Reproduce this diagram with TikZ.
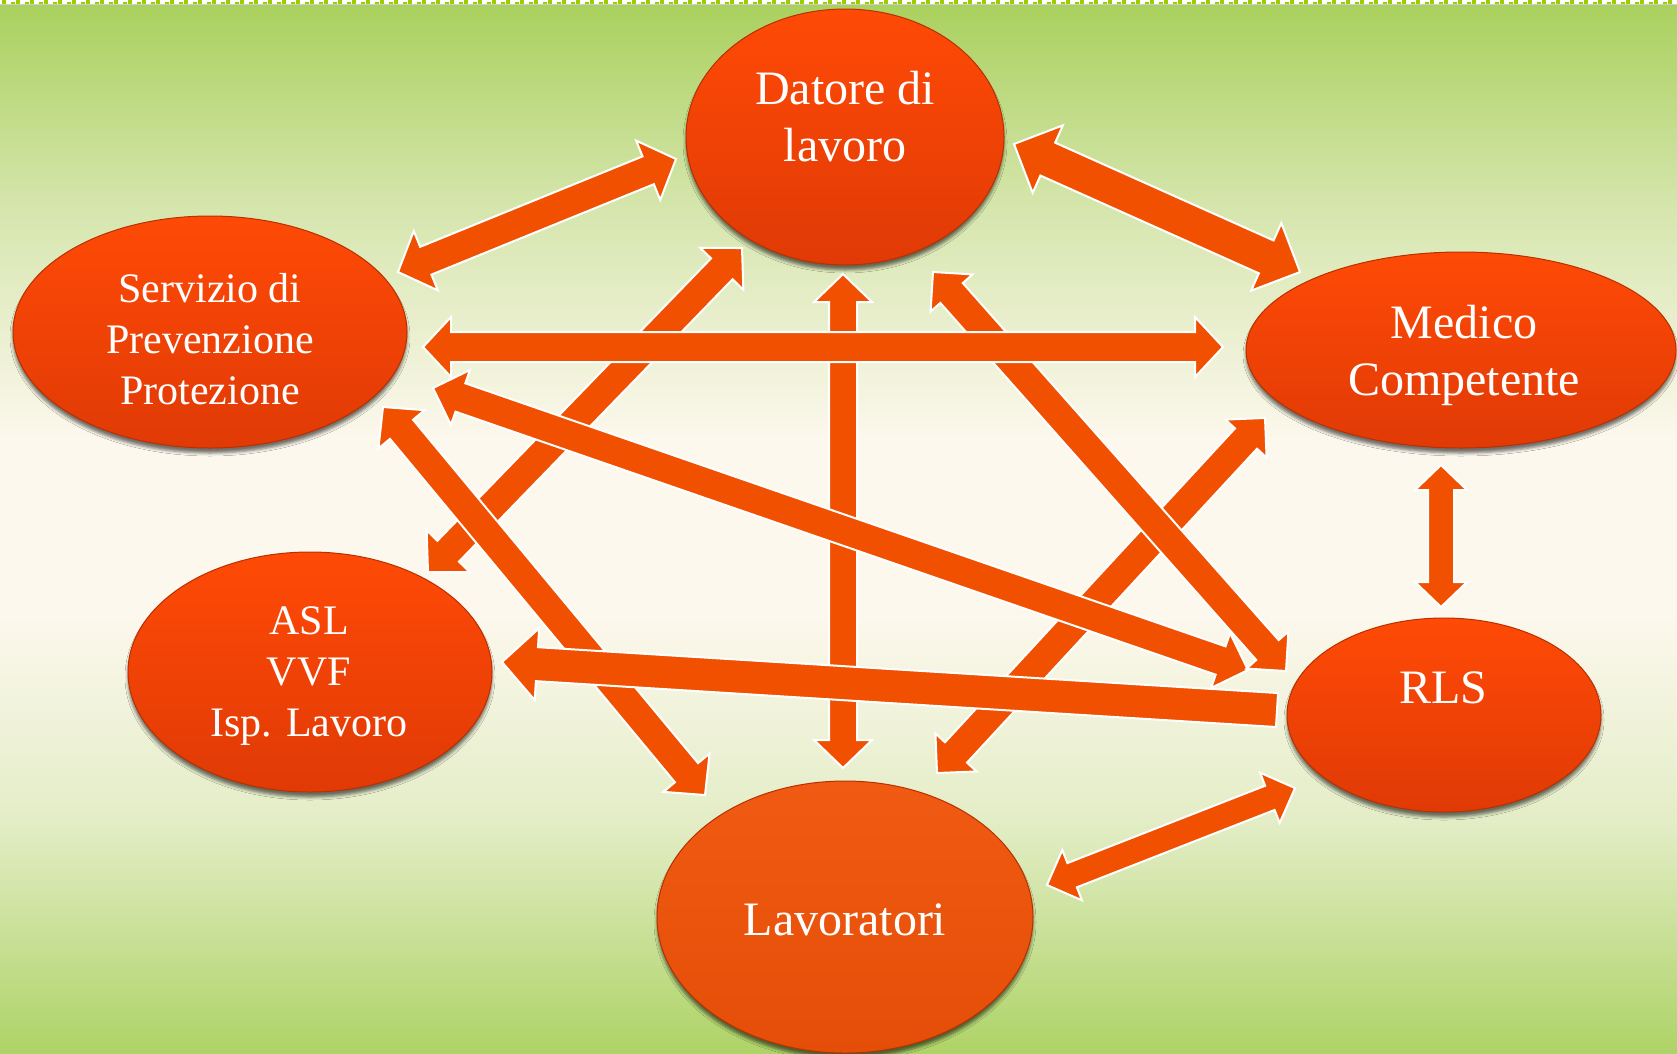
\documentclass[tikz,border=0pt]{standalone}
\usepackage{fontspec}
\setmainfont{Liberation Serif}
\usetikzlibrary{calc,shapes.geometric,shadows.blur}

\definecolor{arrcol}{HTML}{F05000}
\definecolor{bgGtop}{HTML}{A9D05C}
\definecolor{bgLtop}{HTML}{D6E6AE}
\definecolor{bgCream}{HTML}{FDF8EE}
\definecolor{bgLbot}{HTML}{E3EDC6}
\definecolor{bgGbot}{HTML}{AED366}
\definecolor{limecol}{HTML}{9BCD00}
\definecolor{ovTop}{HTML}{FF4A06}
\definecolor{ovBot}{HTML}{E03A06}
\definecolor{ovRim}{HTML}{B83000}
\definecolor{lavTop}{HTML}{F05A12}
\definecolor{lavBot}{HTML}{E44E08}

\pgfdeclareverticalshading{bgshade}{100bp}{%
  color(0bp)=(bgGbot); color(25bp)=(bgGbot); color(36bp)=(bgLbot); color(46bp)=(bgCream);
  color(54bp)=(bgCream); color(65bp)=(bgLtop); color(75bp)=(bgGtop); color(100bp)=(bgGtop)}

\newcommand{\blockarrowD}[5]{%
  \coordinate (ba1) at ($(#1)!#5!(#2)$);
  \coordinate (ba2) at ($(#2)!#5!(#1)$);
  \filldraw[blockarr] (#1) -- ($(ba1)!#4!90:(#2)$) -- ($(ba1)!#3!90:(#2)$)
    -- ($(ba2)!#3!-90:(#1)$) -- ($(ba2)!#4!-90:(#1)$) -- (#2)
    -- ($(ba2)!#4!90:(#1)$) -- ($(ba2)!#3!90:(#1)$)
    -- ($(ba1)!#3!-90:(#2)$) -- ($(ba1)!#4!-90:(#2)$) -- cycle;
}
\newcommand{\blockarrowS}[5]{%
  \coordinate (bb) at ($(#2)!#5!(#1)$);
  \filldraw[blockarr] ($(#1)!#3!90:(#2)$) -- ($(bb)!#3!-90:(#1)$)
    -- ($(bb)!#4!-90:(#1)$) -- (#2) -- ($(bb)!#4!90:(#1)$)
    -- ($(bb)!#3!90:(#1)$) -- ($(#1)!#3!-90:(#2)$) -- cycle;
}

\begin{document}
\begin{tikzpicture}[x=1pt,y=-1pt,
  blockarr/.style={fill=arrcol, draw=white, line width=2pt, line join=miter},
  bubble/.style={ellipse, inner sep=0pt, draw=ovRim, line width=1pt,
    top color=ovTop, bottom color=ovBot,
    blur shadow={shadow xshift=0pt, shadow yshift=-5pt, shadow blur radius=3pt, shadow opacity=55}},
  lavbubble/.style={bubble, top color=lavTop, bottom color=lavBot},
  lbl/.style={text=white, align=center, inner sep=0pt},
  big/.style={font=\fontsize{48}{57}\selectfont},
  mid/.style={font=\fontsize{42}{51}\selectfont}]

\useasboundingbox (0,0) rectangle (1677,1053);
\shade[shading=bgshade] (0,0) rectangle (1677,1053);
\fill[white] (0,0) rectangle (1677,4.5);
\draw[limecol, line width=4.5pt, dash pattern=on 3.5pt off 10.5pt] (2,2.25) -- (1677,2.25);
\draw[limecol, line width=2.5pt, dash pattern=on 4pt off 10pt] (11,3.25) -- (1677,3.25);
\draw[black!20, line width=0.6pt] (0,4.6) -- (1677,4.6);

% ellipses
\node[bubble, minimum width=318pt, minimum height=256pt] (datore) at (845,137) {};
\node[bubble, minimum width=394pt, minimum height=232pt] (servizio) at (210,332) {};
\node[bubble, minimum width=430pt, minimum height=196pt] (medico) at (1461,350) {};
\node[bubble, minimum width=364pt, minimum height=240pt] (asl) at (310,672) {};
\node[bubble, minimum width=314pt, minimum height=194pt] (rls) at (1444,715) {};
\node[lavbubble, minimum width=376pt, minimum height=272pt] (lav) at (845,917) {};

% labels
\node[lbl, big] (datoreT) at (845,117) {Datore di\\lavoro};
\node[lbl, mid] (servizioT) at (210,339) {Servizio di\\Prevenzione\\Protezione};
\node[lbl, big] (medicoT) at (1464,355) {Medico\\Competente};
\node[lbl, mid] (aslT) at (309,676) {ASL\\VVF\\Isp. Lavoro};
\node[lbl, big] (rlsT) at (1443,688) {RLS};
\node[lbl, big] (lavT) at (845,920) {Lavoratori};

% arrow end points
\coordinate (a1s) at (398,272);  \coordinate (a1e) at (676,159);
\coordinate (a2s) at (1014,144); \coordinate (a2e) at (1300,272);
\coordinate (a3s) at (423,347);  \coordinate (a3e) at (1223,347);
\coordinate (a4s) at (742,248);  \coordinate (a4e) at (428,572);
\coordinate (a5s) at (843,274);  \coordinate (a5e) at (843,768);
\coordinate (a6s) at (933,272);  \coordinate (a6e) at (1286,671);
\coordinate (a7s) at (433,388);  \coordinate (a7e) at (1248,670);
\coordinate (a8s) at (383,407);  \coordinate (a8e) at (705,795);
\coordinate (a9s) at (1265,418); \coordinate (a9e) at (937,773);
\coordinate (a10s) at (1277,710); \coordinate (a10e) at (502,662);
\coordinate (a11s) at (1441,465); \coordinate (a11e) at (1441,607);
\coordinate (a12s) at (1047,885); \coordinate (a12e) at (1295,788);

% arrows (layer order)
\blockarrowD{a9s}{a9e}{15pt}{28pt}{28pt}
\blockarrowD{a4s}{a4e}{15pt}{30pt}{29pt}
\blockarrowD{a8s}{a8e}{15pt}{30pt}{29pt}
\blockarrowD{a5s}{a5e}{14pt}{29pt}{28pt}
\blockarrowD{a7s}{a7e}{15pt}{29pt}{29pt}
\blockarrowD{a6s}{a6e}{15pt}{28pt}{28pt}
\blockarrowD{a3s}{a3e}{15pt}{30pt}{28pt}
\blockarrowS{a10s}{a10e}{17pt}{36pt}{35pt}
\blockarrowD{a1s}{a1e}{15pt}{32pt}{30pt}
\blockarrowD{a2s}{a2e}{18pt}{37pt}{37pt}
\blockarrowD{a11s}{a11e}{13pt}{26pt}{25pt}
\blockarrowD{a12s}{a12e}{13pt}{27pt}{27pt}

\end{tikzpicture}
\end{document}
